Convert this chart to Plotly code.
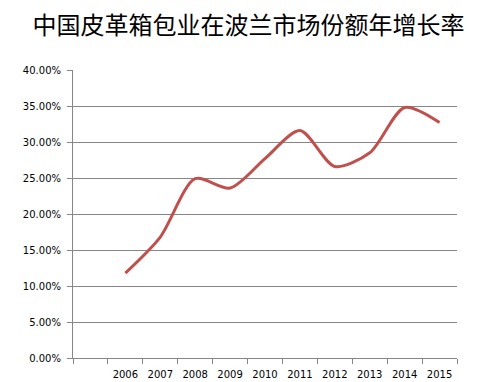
import plotly.graph_objects as go

title = "中国皮革箱包业在波兰市场份额年增长率"
years = ["2006", "2007", "2008", "2009", "2010", "2011", "2012", "2013", "2014", "2015"]
growth = [0.118, 0.168, 0.249, 0.236, 0.277, 0.316, 0.266, 0.285, 0.348, 0.327]
y_ticks = [0, 0.05, 0.10, 0.15, 0.20, 0.25, 0.30, 0.35, 0.40]

# the page body has an 8px margin, so the figure is offset by 8px
OFF = 8
W, H = 489 - OFF, 382 - OFF

grey = "#868686"
fig = go.Figure()
fig.add_trace(go.Scatter(
    x=years, y=growth, mode="lines",
    line=dict(color="#C0504D", width=3, shape="spline", smoothing=0.8),
    hoverinfo="x+y",
))

fig.update_layout(
    width=W, height=H,
    margin=dict(l=73 - OFF, r=32, t=70 - OFF, b=24, autoexpand=False),
    paper_bgcolor="white", plot_bgcolor="white",
    showlegend=False,
    font=dict(family="DejaVu Sans", size=10, color="black"),
    title=dict(text=title, x=(248.5 - OFF) / W, xanchor="center", xref="container",
               y=1 - (26 - OFF) / H, yanchor="middle", yref="container",
               automargin=False,
               font=dict(family="Noto Sans CJK SC", size=24, color="black")),
)
fig.update_xaxes(
    type="category", categoryorder="array", categoryarray=[" "] + years,
    range=[-0.5, len(years) + 0.5], automargin=False,
    tickson="boundaries", ticks="outside", ticklen=5, tickcolor=grey,
    ticklabelstandoff=7,
    showline=True, linecolor=grey, linewidth=1, showgrid=False,
    tickfont=dict(family="DejaVu Sans", size=10, color="black"),
)
fig.update_yaxes(
    range=[0, 0.4], tickvals=y_ticks, tickformat=".2%", automargin=False,
    ticks="outside", ticklen=5, tickcolor=grey,
    ticklabelstandoff=4,
    showline=True, linecolor=grey, linewidth=1,
    showgrid=True, gridcolor=grey, gridwidth=1, zeroline=False,
    tickfont=dict(family="DejaVu Sans", size=10, color="black"),
)
fig.write_html("out.html")
